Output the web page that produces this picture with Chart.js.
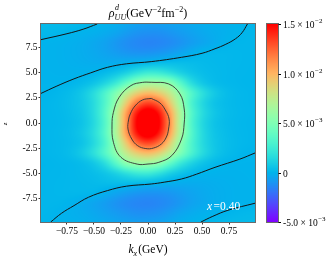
<!DOCTYPE html>
<html><head><meta charset="utf-8">
<script src="https://cdn.jsdelivr.net/npm/chart.js@4/dist/chart.umd.min.js"></script>
<style>html,body{margin:0;padding:0;background:#fff;}</style>
</head><body>
<canvas id="c" width="335" height="258"></canvas>
<script>
// ---- data (values of rho in units of 1e-4 GeV^-2 fm^-2) ----
const kxValues = [-1.0,-0.9,-0.8,-0.7,-0.6,-0.5,-0.4,-0.3,-0.2,-0.1,0,0.1,0.2,0.3,0.4,0.5,0.6,0.7,0.8,0.9,1.0];
const zValues = [10,9,8,7,6,5,4,3,2,1,0,-1,-2,-3,-4,-5,-6,-7,-8,-9,-10];
const valueUnit = 1e-4;
const rho_z10  = [2,2,2,1.5,1,0.3,-0.5,-2,-4,-6,-7,-7,-6,-5,-3.5,-2.5,-1.5,-1,-0.6,-0.1,0.3];
const rho_z9   = [1.5,1.2,0.6,-0.1,-0.8,-1.5,-3,-5,-8,-10.5,-11.5,-11.5,-10,-8,-6,-4,-2.5,-1.5,-0.6,0.2,0.6];
const rho_z8   = [-0.3,-0.6,-1,-1.6,-2.5,-4,-6,-9,-12,-14,-15,-14.5,-13,-10.5,-7.5,-5,-2.8,-0.8,0.3,0.6,0.8];
const rho_z7   = [-0.5,-0.8,-1.2,-1.8,-2.6,-3.8,-5.5,-7.5,-9.5,-10.5,-10.5,-9.5,-7.5,-5,-2.2,0.3,0.8,1,0.9,0.7,0.5];
const rho_z6   = [-0.5,-0.8,-1.1,-1.5,-2,-2.5,-2.8,-2.5,-1.5,-0.2,1.2,2.5,3,3,2.6,2,1.5,1.2,0.9,0.7,0.5];
const rho_z5   = [-0.4,-0.6,-0.8,-0.8,-0.4,0.3,2.3,5.8,11.5,19.5,25,24,18.5,11.5,6.3,3.4,2,1.3,0.8,0.6,0.4];
const rho_z4   = [-0.3,-0.3,-0.1,0.5,2.3,5.8,12.5,23,39,55,62,61,54,34.5,17,7.5,3.2,1.5,0.9,0.5,0.4];
const rho_z3   = [-0.1,0.2,1.3,3.2,7.5,16,30,49,71,89,97,91,76,54,33,18,8.6,3.7,1.6,0.9,0.5];
const rho_z2   = [0.4,0.9,1.8,3.7,7.5,16,32,57,91,120,132,122,93,60,31,15,6.3,2.9,1.5,0.9,0.6];
const rho_z1   = [0.5,0.9,1.6,3.4,6.9,16,34.5,66,107,144,159,145,108,67,34.5,16.7,7.5,3.4,1.7,1,0.6];
const rho_z0   = [0.5,0.8,1.4,2.9,6.3,15,33,66,110,151,167,151,112,67,33,15,6.3,2.9,1.4,0.8,0.5];
const rho_zm1  = [0.6,1,1.7,3.4,7.5,16.7,34.5,67,108,145,159,144,107,66,34.5,16,6.9,3.4,1.6,0.9,0.5];
const rho_zm2  = [0.6,0.9,1.5,2.9,6.3,15,31,60,93,122,132,120,91,57,32,16,7.5,3.7,1.8,0.9,0.4];
const rho_zm3  = [0.5,0.9,1.6,3.7,8.6,18,33,54,76,91,97,89,71,49,30,16,7.5,3.2,1.3,0.2,-0.1];
const rho_zm4  = [0.4,0.5,0.9,1.5,3.2,7.5,17,34.5,54,61,62,55,39,23,12.5,5.8,2.3,0.5,-0.1,-0.3,-0.3];
const rho_zm5  = [0.4,0.6,0.8,1.3,2,3.4,6.3,11.5,18.5,24,25,19.5,11.5,5.8,2.3,0.3,-0.4,-0.8,-0.8,-0.6,-0.4];
const rho_zm6  = [0.5,0.7,0.9,1.2,1.5,2,2.6,3,3,2.5,1.2,-0.2,-1.5,-2.5,-2.8,-2.5,-2,-1.5,-1.1,-0.8,-0.5];
const rho_zm7  = [0.5,0.7,0.9,1,0.8,0.3,-2.2,-5,-7.5,-9.5,-10.5,-10.5,-9.5,-7.5,-5.5,-3.8,-2.6,-1.8,-1.2,-0.8,-0.5];
const rho_zm8  = [0.8,0.6,0.3,-0.8,-2.8,-5,-7.5,-10.5,-13,-14.5,-15,-14,-12,-9,-6,-4,-2.5,-1.6,-1,-0.6,-0.3];
const rho_zm9  = [0.6,0.2,-0.6,-1.5,-2.5,-4,-6,-8,-10,-11.5,-11.5,-10.5,-8,-5,-3,-1.5,-0.8,-0.1,0.6,1.2,1.5];
const rho_zm10 = [0.3,-0.1,-0.6,-1,-1.5,-2.5,-3.5,-5,-6,-7,-7,-6,-4,-2,-0.5,0.3,1,1.5,2,2,2];
const rhoGrid = [rho_z10,rho_z9,rho_z8,rho_z7,rho_z6,rho_z5,rho_z4,rho_z3,rho_z2,rho_z1,rho_z0,
  rho_zm1,rho_zm2,rho_zm3,rho_zm4,rho_zm5,rho_zm6,rho_zm7,rho_zm8,rho_zm9,rho_zm10];

// contour lines (kx, z)
const contourZeroUpper = [[-0.99,2.95],[-0.85,3.65],[-0.685,4.4],[-0.53,5.0],[-0.375,5.55],[-0.2,5.9],[0.03,6.12],[0.31,6.55],[0.5,6.95],[0.62,7.4],[0.72,7.85],[0.81,8.4],[0.87,9.0],[0.92,9.87]];
const contourZeroLower = [[0.99,-2.99],[0.85,-3.6],[0.62,-4.42],[0.45,-5.1],[0.31,-5.58],[0.15,-5.9],[0.03,-6.08],[-0.2,-6.3],[-0.375,-6.74],[-0.55,-7.4],[-0.685,-8.24],[-0.8,-9.0],[-0.9,-9.87]];
const contourZeroTopLeft = [[-0.99,8.31],[-0.75,8.9],[-0.6,9.35],[-0.47,9.87]];
const contourZeroBottomRight = [[0.49,-9.87],[0.6,-9.3],[0.74,-8.7],[0.99,-8.0]];
const contourOuter = [[0.03,4.06],[0.19,3.9],[0.295,2.9],[0.335,1.4],[0.335,0],[0.31,-1.6],[0.22,-3.25],[0.1,-3.92],[0.0,-4.09],[-0.1,-4.1],[-0.25,-3.42],[-0.32,-1.92],[-0.333,-0.2],[-0.32,1.07],[-0.267,2.56],[-0.158,3.73],[-0.05,4.05],[0.03,4.06]];
const contourInner = [[0.03,2.45],[0.11,2.0],[0.16,1.3],[0.195,0.4],[0.19,-0.6],[0.17,-1.4],[0.124,-2.09],[0.05,-2.5],[-0.02,-2.55],[-0.096,-2.26],[-0.15,-1.6],[-0.185,-0.6],[-0.18,0.3],[-0.164,0.9],[-0.12,1.7],[-0.05,2.3],[0.03,2.45]];

const xTicks = [-0.75,-0.5,-0.25,0,0.25,0.5,0.75];
const yTicks = [-7.5,-5,-2.5,0,2.5,5,7.5];
const colorMin = -0.005, colorMax = 0.015;
const colorbarTicks = [-0.005, 0, 0.005, 0.01, 0.015];
const colorbarLabels = [['-5.0 × 10','−3'],['0',''],['5.0 × 10','−3'],['1.0 × 10','−2'],['1.5 × 10','−2']];
const xRange = [-0.99, 0.99], zRange = [-9.87, 9.87];
const annotationText = ['x', '=0.40'];

// ---- helpers ----
const SERIF = '"Liberation Serif", "Times New Roman", serif';
function rainbow(t){
  t = Math.max(0, Math.min(1, t));
  const r = Math.min(1, Math.abs(2*t - 0.5)), g = Math.sin(Math.PI*t), b = Math.cos(Math.PI*t/2);
  return [Math.round(r*255), Math.round(g*255), Math.round(b*255)];
}
function fracIndex(arr, v){
  const asc = arr[1] > arr[0];
  for (let i = 0; i < arr.length - 1; i++){
    const a = arr[i], b = arr[i+1];
    if ((asc ? v <= b : v >= b) || i === arr.length - 2){
      let t = (v - a) / (b - a); t = Math.max(0, Math.min(1, t));
      return [i, t];
    }
  }
}
function cr(p0, p1, p2, p3, t){
  return 0.5 * ((2*p1) + (-p0 + p2)*t + (2*p0 - 5*p1 + 4*p2 - p3)*t*t + (-p0 + 3*p1 - 3*p2 + p3)*t*t*t);
}
function cell(j, i){
  j = Math.max(0, Math.min(rhoGrid.length - 1, j));
  i = Math.max(0, Math.min(kxValues.length - 1, i));
  return rhoGrid[j][i];
}
function sampleGrid(kx, z){
  const [i, tx] = fracIndex(kxValues, kx);
  const [j, tz] = fracIndex(zValues, z);
  const rows = [];
  for (let dj = -1; dj <= 2; dj++){
    rows.push(cr(cell(j+dj, i-1), cell(j+dj, i), cell(j+dj, i+1), cell(j+dj, i+2), tx));
  }
  return cr(rows[0], rows[1], rows[2], rows[3], tz) * valueUnit;
}
function fontOf(r){ return (r.italic ? 'italic ' : '') + r.size + 'px ' + SERIF; }
function drawRuns(ctx, x, y, runs, align){
  const w = runs.map(r => { ctx.font = fontOf(r); return r.noAdvance ? 0 : ctx.measureText(r.t).width + (r.gap || 0); });
  const total = w.reduce((a,b)=>a+b, 0);
  let cx = align === 'center' ? x - total/2 : x;
  ctx.textAlign = 'left'; ctx.textBaseline = 'alphabetic';
  runs.forEach((r, k) => { ctx.font = fontOf(r); ctx.fillText(r.t, cx + (r.dx||0), y + (r.dy || 0)); cx += w[k]; });
}

const heatmapPlugin = {
  id: 'heatmap',
  beforeDatasetsDraw(chart){
    const {ctx, chartArea: a, scales} = chart;
    const xs = scales.x, ys = scales.y, cb = scales.cb;
    const w = Math.round(a.right - a.left), h = Math.round(a.bottom - a.top);
    const off = document.createElement('canvas'); off.width = w; off.height = h;
    const octx = off.getContext('2d'); const img = octx.createImageData(w, h);
    for (let j = 0; j < h; j++){
      const zv = ys.getValueForPixel(a.top + j + 0.5);
      for (let i = 0; i < w; i++){
        const kv = xs.getValueForPixel(a.left + i + 0.5);
        const v = sampleGrid(kv, zv);
        const t = (cb.getPixelForValue(v) - cb.bottom) / (cb.top - cb.bottom);
        const c = rainbow(t); const p = (j*w + i)*4;
        img.data[p] = c[0]; img.data[p+1] = c[1]; img.data[p+2] = c[2]; img.data[p+3] = 255;
      }
    }
    octx.putImageData(img, 0, 0);
    ctx.drawImage(off, a.left, a.top);
  },
  afterDraw(chart){
    const {ctx, chartArea: a, scales} = chart;
    const cb = scales.cb;
    ctx.save();
    // plot frame
    ctx.strokeStyle = '#6b6b6b'; ctx.lineWidth = 1;
    ctx.strokeRect(Math.round(a.left) - 0.5, Math.round(a.top) - 0.5, Math.round(a.right - a.left) + 1, Math.round(a.bottom - a.top) + 1);
    // colorbar
    const bx0 = 267, bx1 = 278;
    for (let py = Math.round(a.top); py < Math.round(a.bottom); py++){
      const v = cb.getValueForPixel(py + 0.5);
      const c = rainbow((v - colorMin) / (colorMax - colorMin));
      ctx.fillStyle = `rgb(${c[0]},${c[1]},${c[2]})`;
      ctx.fillRect(bx0, py, bx1 - bx0, 1);
    }
    ctx.strokeStyle = '#6b6b6b';
    ctx.strokeRect(bx0 - 0.5, Math.round(a.top) - 0.5, bx1 - bx0 + 1, Math.round(a.bottom - a.top) + 1);
    ctx.strokeStyle = '#000'; ctx.fillStyle = '#000';
    colorbarTicks.forEach((v, k) => {
      const py = Math.round(cb.getPixelForValue(v)) + 0.5;
      ctx.beginPath(); ctx.moveTo(bx1 + 0.5, py); ctx.lineTo(bx1 + 3, py); ctx.stroke();
      const lab = colorbarLabels[k];
      const runs = [{t: lab[0], size: 9.5}];
      if (lab[1]) runs.push({t: lab[1], size: 7, dy: -4.5, dx: 0.5});
      drawRuns(ctx, 283, py + 3.3, runs, 'left');
    });
    // title
    drawRuns(ctx, 148, 17.3, [
      {t: 'ρ', size: 12, italic: true},
      {t: 'd', size: 8, italic: true, dy: -7, noAdvance: true, dx: 0.5},
      {t: 'UU', size: 8, italic: true, dy: 3},
      {t: '(GeV', size: 12},
      {t: '−2', size: 8, dy: -5},
      {t: 'fm', size: 12},
      {t: '−2', size: 8, dy: -5},
      {t: ')', size: 12}
    ], 'center');
    // x label
    drawRuns(ctx, 148, 253, [
      {t: 'k', size: 11.5, italic: true},
      {t: 'x', size: 8, italic: true, dy: 2.5, gap: 1},
      {t: '(GeV)', size: 11.5}
    ], 'center');
    // y label
    ctx.save(); ctx.translate(7, 124); ctx.rotate(-Math.PI/2);
    drawRuns(ctx, 0, 0, [{t: 'z', size: 7, italic: true}], 'center');
    ctx.restore();
    // annotation
    ctx.fillStyle = '#ffffff';
    drawRuns(ctx, 207, 209.5, [
      {t: annotationText[0], size: 11.5, italic: true, gap: 1.5},
      {t: annotationText[1], size: 11.5}
    ], 'left');
    ctx.restore();
  }
};

const lineDs = (pts, color, width) => ({
  type: 'line', data: pts.map(p => ({x: p[0], y: p[1]})),
  borderColor: color, borderWidth: width, pointRadius: 0, tension: 0.4, fill: false
});

new Chart(document.getElementById('c'), {
  type: 'scatter',
  data: { datasets: [
    lineDs(contourZeroUpper, '#141414', 1),
    lineDs(contourZeroLower, '#141414', 1),
    lineDs(contourZeroTopLeft, '#141414', 1),
    lineDs(contourZeroBottomRight, '#141414', 1),
    lineDs(contourOuter, '#333333', 0.9),
    lineDs(contourInner, '#333333', 0.9)
  ]},
  options: {
    responsive: false, animation: false, devicePixelRatio: 1,
    layout: { padding: { left: 0, right: 80, top: 24, bottom: 0 } },
    plugins: { legend: { display: false }, tooltip: { enabled: false }, title: { display: false } },
    scales: {
      x: {
        type: 'linear', min: xRange[0], max: xRange[1],
        afterBuildTicks: s => { s.ticks = xTicks.map(v => ({value: v})); },
        afterFit: s => { s.height = 36; },
        grid: { display: true, drawOnChartArea: false, drawTicks: true, tickLength: 2.5, tickColor: '#000', tickWidth: 0.8 },
        border: { display: false },
        ticks: { font: { family: SERIF, size: 9.5 }, color: '#000', padding: 1.5, maxRotation: 0,
          callback: v => (v < 0 ? '−' : '') + Math.abs(v).toFixed(2) }
      },
      y: {
        type: 'linear', min: zRange[0], max: zRange[1],
        afterBuildTicks: s => { s.ticks = yTicks.map(v => ({value: v})); },
        afterFit: s => { s.width = 41; },
        grid: { display: true, drawOnChartArea: false, drawTicks: true, tickLength: 2.5, tickColor: '#000', tickWidth: 0.8 },
        border: { display: false },
        ticks: { font: { family: SERIF, size: 9.5 }, color: '#000', padding: 1,
          callback: v => v.toFixed(1) }
      },
      cb: { type: 'linear', display: false, position: 'right', min: colorMin, max: colorMax }
    }
  },
  plugins: [heatmapPlugin]
});
</script>
</body></html>
